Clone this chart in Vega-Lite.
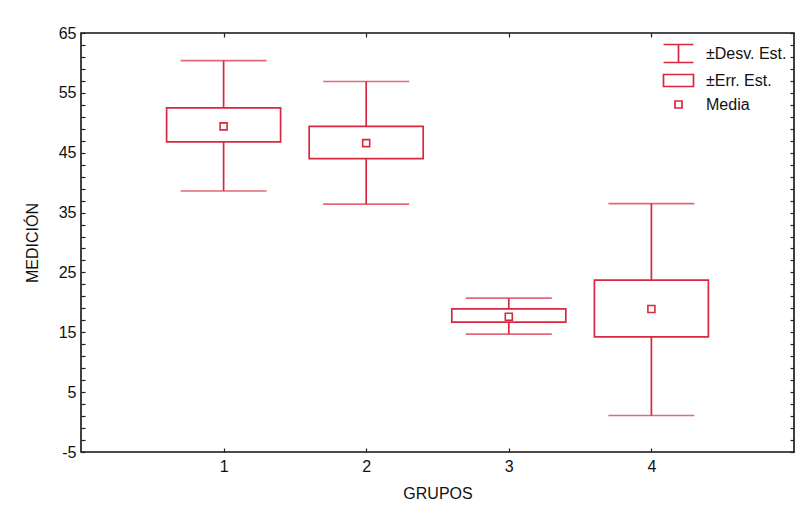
{
  "$schema": "https://vega.github.io/schema/vega-lite/v6.json",
  "width": 713,
  "height": 419,
  "autosize": "none",
  "padding": {"left": 81, "top": 33, "right": 10, "bottom": 61},
  "background": "white",
  "config": {
    "view": {"stroke": "#111111", "strokeWidth": 1.6},
    "font": "Liberation Sans",
    "axis": {
      "grid": false,
      "domain": false,
      "labelFont": "Liberation Sans",
      "labelFontSize": 16,
      "labelColor": "#111111",
      "titleFont": "Liberation Sans",
      "titleFontSize": 16,
      "titleFontWeight": "normal",
      "titleColor": "#111111",
      "tickColor": "#222222",
      "tickWidth": 1.2
    },
    "legend": {"labelFont": "Liberation Sans", "labelColor": "#111111"}
  },
  "data": {
    "values": [
      {"grupo": 1, "media": 49.4, "ds_lo": 38.6, "ds_hi": 60.4, "ee_lo": 46.8, "ee_hi": 52.5, "serie": "Media"},
      {"grupo": 2, "media": 46.6, "ds_lo": 36.4, "ds_hi": 56.9, "ee_lo": 44.0, "ee_hi": 49.4, "serie": "Media"},
      {"grupo": 3, "media": 17.6, "ds_lo": 14.7, "ds_hi": 20.7, "ee_lo": 16.7, "ee_hi": 18.9, "serie": "Media"},
      {"grupo": 4, "media": 18.9, "ds_lo": 1.1, "ds_hi": 36.5, "ee_lo": 14.25, "ee_hi": 23.7, "serie": "Media"}
    ]
  },
  "layer": [
    {
      "mark": {"type": "rule", "color": "#d8283f", "strokeWidth": 1.7},
      "encoding": {
        "x": {
          "field": "grupo", "type": "quantitative",
          "scale": {"domain": [0, 5], "padding": 0, "nice": false, "zero": false},
          "axis": {"orient": "bottom", "values": [1, 2, 3, 4], "tickSize": -4, "labelPadding": 10, "title": "GRUPOS", "titlePadding": 11}
        },
        "y": {
          "field": "ds_lo", "type": "quantitative",
          "scale": {"domain": [-5, 65], "padding": 0, "nice": false, "zero": false},
          "axis": {
            "orient": "left",
            "values": [-5, -3, -1, 1, 3, 5, 7, 9, 11, 13, 15, 17, 19, 21, 23, 25, 27, 29, 31, 33, 35, 37, 39, 41, 43, 45, 47, 49, 51, 53, 55, 57, 59, 61, 63, 65],
            "tickSize": -4,
            "labelOverlap": false,
            "labelExpr": "(datum.value + 5) % 10 == 0 ? replace(datum.label, '−', '-') : ''",
            "labelPadding": 9,
            "title": "MEDICIÓN",
            "titlePadding": 18
          }
        },
        "y2": {"field": "ds_hi"}
      }
    },
    {
      "mark": {"type": "tick", "orient": "horizontal", "color": "#d8283f", "size": 86, "thickness": 1.7},
      "encoding": {
        "x": {
          "field": "grupo", "type": "quantitative",
          "axis": {"orient": "top", "values": [1, 2, 3, 4], "tickSize": -4, "labels": false, "title": null}
        },
        "y": {
          "field": "ds_hi", "type": "quantitative",
          "axis": {
            "orient": "right",
            "values": [-5, -3, -1, 1, 3, 5, 7, 9, 11, 13, 15, 17, 19, 21, 23, 25, 27, 29, 31, 33, 35, 37, 39, 41, 43, 45, 47, 49, 51, 53, 55, 57, 59, 61, 63, 65],
            "tickSize": -4,
            "labels": false,
            "title": null
          }
        }
      }
    },
    {
      "mark": {"type": "tick", "orient": "horizontal", "color": "#d8283f", "size": 86, "thickness": 1.7},
      "encoding": {
        "x": {"field": "grupo", "type": "quantitative", "axis": null},
        "y": {"field": "ds_lo", "type": "quantitative", "axis": null}
      }
    },
    {
      "mark": {"type": "bar", "size": 114, "fill": "white", "stroke": "#d8283f", "strokeWidth": 1.7},
      "encoding": {
        "x": {"field": "grupo", "type": "quantitative", "axis": null},
        "y": {"field": "ee_lo", "type": "quantitative", "axis": null},
        "y2": {"field": "ee_hi"}
      }
    },
    {
      "mark": {"type": "point", "filled": false, "color": "#d8283f", "strokeWidth": 1.6, "size": 625, "opacity": 1},
      "encoding": {
        "x": {"field": "grupo", "type": "quantitative", "axis": null},
        "y": {"field": "media", "type": "quantitative", "axis": null},
        "shape": {
          "field": "serie", "type": "nominal",
          "scale": {
            "domain": ["±Desv. Est.", "±Err. Est.", "Media"],
            "range": [
              "M-1.2,-0.72H1.2M-1.2,0.72H1.2M0,-0.72V0.72",
              "M-1.2,-0.48H1.2V0.48H-1.2Z",
              "M-0.28,-0.28H0.28V0.28H-0.28Z"
            ]
          },
          "legend": {
            "title": null,
            "orient": "top-right",
            "offset": 7,
            "padding": 0,
            "symbolSize": 625,
            "symbolStrokeWidth": 1.7,
            "symbolStrokeColor": "#d8283f",
            "symbolFillColor": "transparent",
            "labelFontSize": 16,
            "labelOffset": 14,
            "rowPadding": 1
          }
        }
      }
    }
  ],
  "resolve": {"axis": {"x": "independent", "y": "independent"}}
}
